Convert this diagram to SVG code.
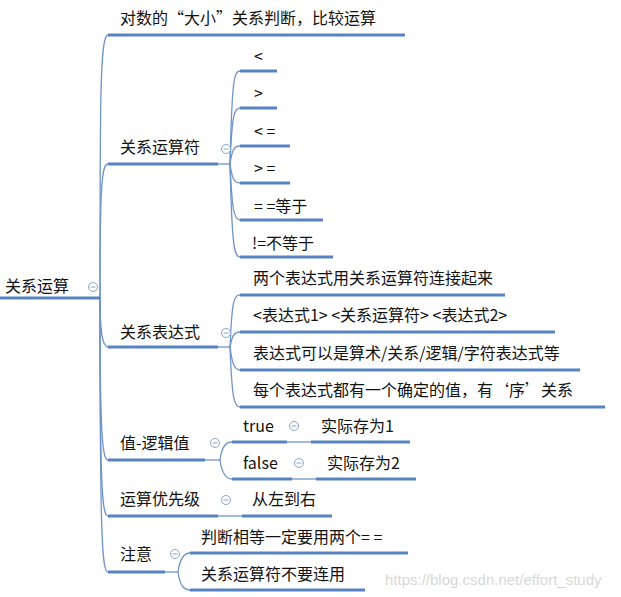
<svg xmlns="http://www.w3.org/2000/svg" width="621" height="597" viewBox="0 0 621 597">
<style>
text{font-family:"Microsoft YaHei","Noto Sans CJK SC",sans-serif;font-size:16px;fill:#111}
.u{stroke:#5683c2;stroke-width:3;fill:none}
.c{stroke:#6f94c9;stroke-width:1.3;fill:none}
.k{fill:#fff;stroke:#8aa4c8;stroke-width:1}
.m{stroke:#8aa4c8;stroke-width:1}
.w{fill:#d8d8d8;font-family:"Liberation Sans",sans-serif;font-size:15px}
</style>
<defs>
<g id="col"><circle r="4.5" class="k"/><line x1="-2.5" x2="2.5" class="m"/></g>
</defs>
<g id="connectors">
<path class="c" d="M100,298 C100,100 100,35 108,35"/>
<path class="c" d="M100,298 C100,180 102,164 108,164"/>
<path class="c" d="M100,298 C100,330 102,347 108,347"/>
<path class="c" d="M100,298 C100,430 102,460 108,460"/>
<path class="c" d="M100,298 C100,490 102,516 108,516"/>
<path class="c" d="M100,298 C100,540 102,572 108,572"/>
<path class="c" d="M218,164 H230"/>
<path class="c" d="M230,164 C232,80 234,71 240,71"/>
<path class="c" d="M230,164 C232,115 234,108 240,108"/>
<path class="c" d="M230,164 C232,150 234,146 240,146"/>
<path class="c" d="M230,164 C232,178 234,183 240,183"/>
<path class="c" d="M230,164 C232,210 234,220 240,220"/>
<path class="c" d="M230,164 C232,245 234,257 240,257"/>
<path class="c" d="M218,347 H230"/>
<path class="c" d="M230,347 C232,300 234,295 240,295"/>
<path class="c" d="M230,347 C232,336 234,332 240,332"/>
<path class="c" d="M230,347 C232,362 234,370 240,370"/>
<path class="c" d="M230,347 C232,398 234,407 240,407"/>
<path class="c" d="M205,460 H220"/>
<path class="c" d="M220,460 C222,446 226,442 232,442"/>
<path class="c" d="M220,460 C222,474 226,479 232,479"/>
<path class="c" d="M287,442 H311"/>
<path class="c" d="M292,479 H316"/>
<path class="c" d="M218,516 H242"/>
<path class="c" d="M165,572 H178"/>
<path class="c" d="M178,572 C180,558 184,553 190,553"/>
<path class="c" d="M178,572 C180,586 184,590 190,590"/>
</g>
<g id="root"><text x="5" y="292">关系运算</text><path class="u" d="M0,298 H100"/><use href="#col" x="93" y="287"/></g>
<g id="n1"><text x="120" y="24">对数的“大小”关系判断，比较运算</text><path class="u" d="M108,35 H405"/></g>
<g id="n2"><text x="120" y="153">关系运算符</text><path class="u" d="M108,164 H218"/><use href="#col" x="226" y="149"/></g>
<g id="n2a"><text x="254" y="62">&lt;</text><path class="u" d="M240,71 H277"/></g>
<g id="n2b"><text x="254" y="99">&gt;</text><path class="u" d="M240,108 H277"/></g>
<g id="n2c"><text x="254" y="137">&lt; =</text><path class="u" d="M240,146 H290"/></g>
<g id="n2d"><text x="254" y="174">&gt; =</text><path class="u" d="M240,183 H290"/></g>
<g id="n2e"><text x="254" y="212">= =等于</text><path class="u" d="M240,220 H323"/></g>
<g id="n2f"><text x="252" y="249">!=不等于</text><path class="u" d="M240,257 H333"/></g>
<g id="n3"><text x="120" y="338">关系表达式</text><path class="u" d="M108,347 H218"/><use href="#col" x="226" y="333"/></g>
<g id="n3a"><text x="253" y="284">两个表达式用关系运算符连接起来</text><path class="u" d="M240,295 H505"/></g>
<g id="n3b"><text x="253" y="321">&lt;表达式1&gt; &lt;关系运算符&gt; &lt;表达式2&gt;</text><path class="u" d="M240,332 H555"/></g>
<g id="n3c"><text x="253" y="359">表达式可以是算术/关系/逻辑/字符表达式等</text><path class="u" d="M240,370 H580"/></g>
<g id="n3d"><text x="253" y="396">每个表达式都有一个确定的值，有‘序’关系</text><path class="u" d="M240,407 H605"/></g>
<g id="n4"><text x="120" y="449">值-逻辑值</text><path class="u" d="M108,460 H205"/><use href="#col" x="215" y="443"/></g>
<g id="n4a"><text x="243" y="432">true</text><path class="u" d="M232,442 H287"/><use href="#col" x="294" y="426"/></g>
<g id="n4a1"><text x="321" y="432">实际存为1</text><path class="u" d="M311,442 H410"/></g>
<g id="n4b"><text x="243" y="469">false</text><path class="u" d="M232,479 H292"/><use href="#col" x="299" y="463"/></g>
<g id="n4b1"><text x="327" y="469">实际存为2</text><path class="u" d="M316,479 H416"/></g>
<g id="n5"><text x="120" y="505">运算优先级</text><path class="u" d="M108,516 H218"/><use href="#col" x="226" y="500"/></g>
<g id="n5a"><text x="252" y="505">从左到右</text><path class="u" d="M242,516 H332"/></g>
<g id="n6"><text x="120" y="560">注意</text><path class="u" d="M108,572 H165"/><use href="#col" x="175" y="554"/></g>
<g id="n6a"><text x="201" y="543">判断相等一定要用两个= =</text><path class="u" d="M190,553 H408"/></g>
<g id="n6b"><text x="201" y="580">关系运算符不要连用</text><path class="u" d="M190,590 H365"/></g>
<text class="w" x="385" y="585">https://blog.csdn.net/effort_study</text>
</svg>
